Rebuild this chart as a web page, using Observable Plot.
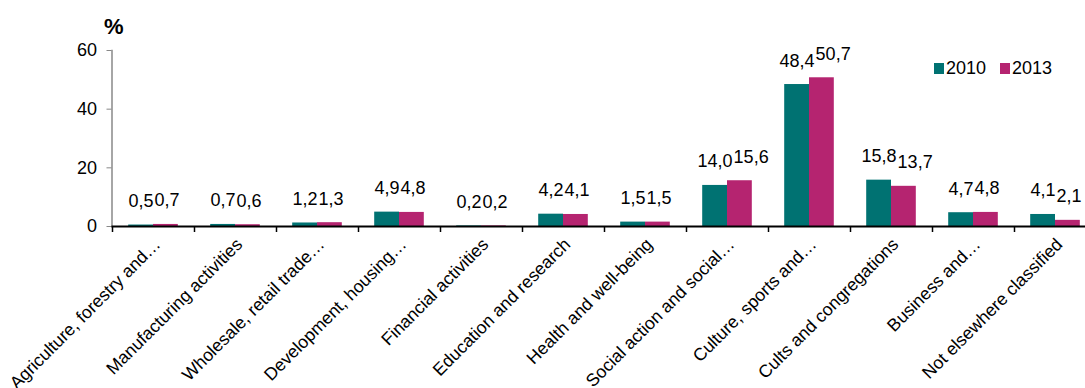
<!DOCTYPE html>
<html><head><meta charset="utf-8">
<script src="https://cdn.jsdelivr.net/npm/d3@7"></script>
<script src="https://cdn.jsdelivr.net/npm/@observablehq/plot@0.6"></script>
<style>
body{margin:0;background:#fff;font-family:"Liberation Sans",Arial,sans-serif;}
#wrap{position:relative;width:1085px;height:388px;overflow:hidden;}
#unit{position:absolute;left:104px;top:14px;font-size:22px;font-weight:bold;color:#000;}
#legend{position:absolute;left:934px;top:58px;font-size:18px;color:#000;display:flex;align-items:center;}
#legend span.sw{display:inline-block;width:10px;height:11px;margin-right:2px;}
#legend span.lb{margin-right:14px;}
</style></head><body>
<div id="wrap"><div id="unit">%</div><div id="legend"></div></div>
<script>
const categories = [
  "Agriculture, forestry and…",
  "Manufacturing activities",
  "Wholesale, retail trade…",
  "Development, housing…",
  "Financial activities",
  "Education and research",
  "Health and well-being",
  "Social action and social…",
  "Culture, sports and…",
  "Cults and congregations",
  "Business and…",
  "Not elsewhere classified"
];
const years = ["2010", "2013"];
const values2010 = [0.5, 0.7, 1.2, 4.9, 0.2, 4.2, 1.5, 14.0, 48.4, 15.8, 4.7, 4.1];
const values2013 = [0.7, 0.6, 1.3, 4.8, 0.2, 4.1, 1.5, 15.6, 50.7, 13.7, 4.8, 2.1];
const yTicks = [0, 20, 40, 60];
const colors = ["#007272", "#b52470"];

const fmt = v => v.toFixed(1).replace(".", ",");
const FS = 18;
const textW = s => [...s].reduce((a, c) => a + (c === "," ? 0.278 : 0.556), 0) * FS;

const band = 82, inner = 16.2, barW = 24.8;
const rows2010 = categories.map((c, i) => ({category: c, year: years[0], value: values2010[i]}));
const rows2013 = categories.map((c, i) => ({category: c, year: years[1], value: values2013[i]}));
// label offsets: 2013 label shifted right when it would overlap the 2010 label
rows2013.forEach((d, i) => {
  const w1 = textW(fmt(values2010[i])), w2 = textW(fmt(d.value));
  const c1 = -barW / 2, c2 = barW / 2;
  const minLeft = c1 + w1 / 2 + 1;
  d.dx = Math.max(c2, minLeft + w2 / 2);
});

const chart = Plot.plot({
  width: 1085,
  height: 388,
  marginTop: 50,
  marginBottom: 162,
  marginLeft: 111.5,
  marginRight: 0,
  style: {fontFamily: '"Liberation Sans", Arial, sans-serif', fontSize: FS + "px", color: "#000", background: "#fff"},
  x: {domain: categories, range: [111.5, 111.5 + band * categories.length], padding: 0},
  y: {domain: [0, 60]},
  color: {domain: years, range: colors},
  marks: [
    Plot.barY(rows2010, {x: "category", y: "value", fill: "year", insetLeft: inner, insetRight: band - inner - barW}),
    Plot.barY(rows2013, {x: "category", y: "value", fill: "year", insetLeft: band - inner - barW, insetRight: inner}),
    Plot.text(rows2010, {x: "category", y: "value", text: d => fmt(d.value), dx: -barW / 2, dy: -18, lineAnchor: "bottom", fontSize: FS, fill: "#000"}),
    ...rows2013.map(d => Plot.text([d], {x: "category", y: "value", text: d => fmt(d.value), dx: d.dx, dy: -18, lineAnchor: "bottom", fontSize: FS, fill: "#000"})),
    Plot.frame({anchor: "left", stroke: "#888", strokeWidth: 1.5}),
    Plot.axisY({ticks: yTicks, tickSize: 5, tickPadding: 10, stroke: "#888", fill: "#000", label: null, fontSize: FS}),
    Plot.ruleY([0], {stroke: "#000", strokeWidth: 2}),
    Plot.ruleX(categories, {x: d => d, y1: 0, y2: 0, dx: -band / 2, insetBottom: -6, stroke: "#000", strokeWidth: 1.5}),
    Plot.axisX({tickSize: 0, tickRotate: -45, tickPadding: 15, dx: 4, label: null, fontSize: 17.6, fill: "#000"})
  ]
});
document.getElementById("wrap").prepend(chart);

const leg = document.getElementById("legend");
years.forEach((y, i) => {
  const sw = document.createElement("span"); sw.className = "sw"; sw.style.background = colors[i];
  const lb = document.createElement("span"); lb.className = "lb"; lb.textContent = y;
  leg.append(sw, lb);
});
</script>
</body></html>
